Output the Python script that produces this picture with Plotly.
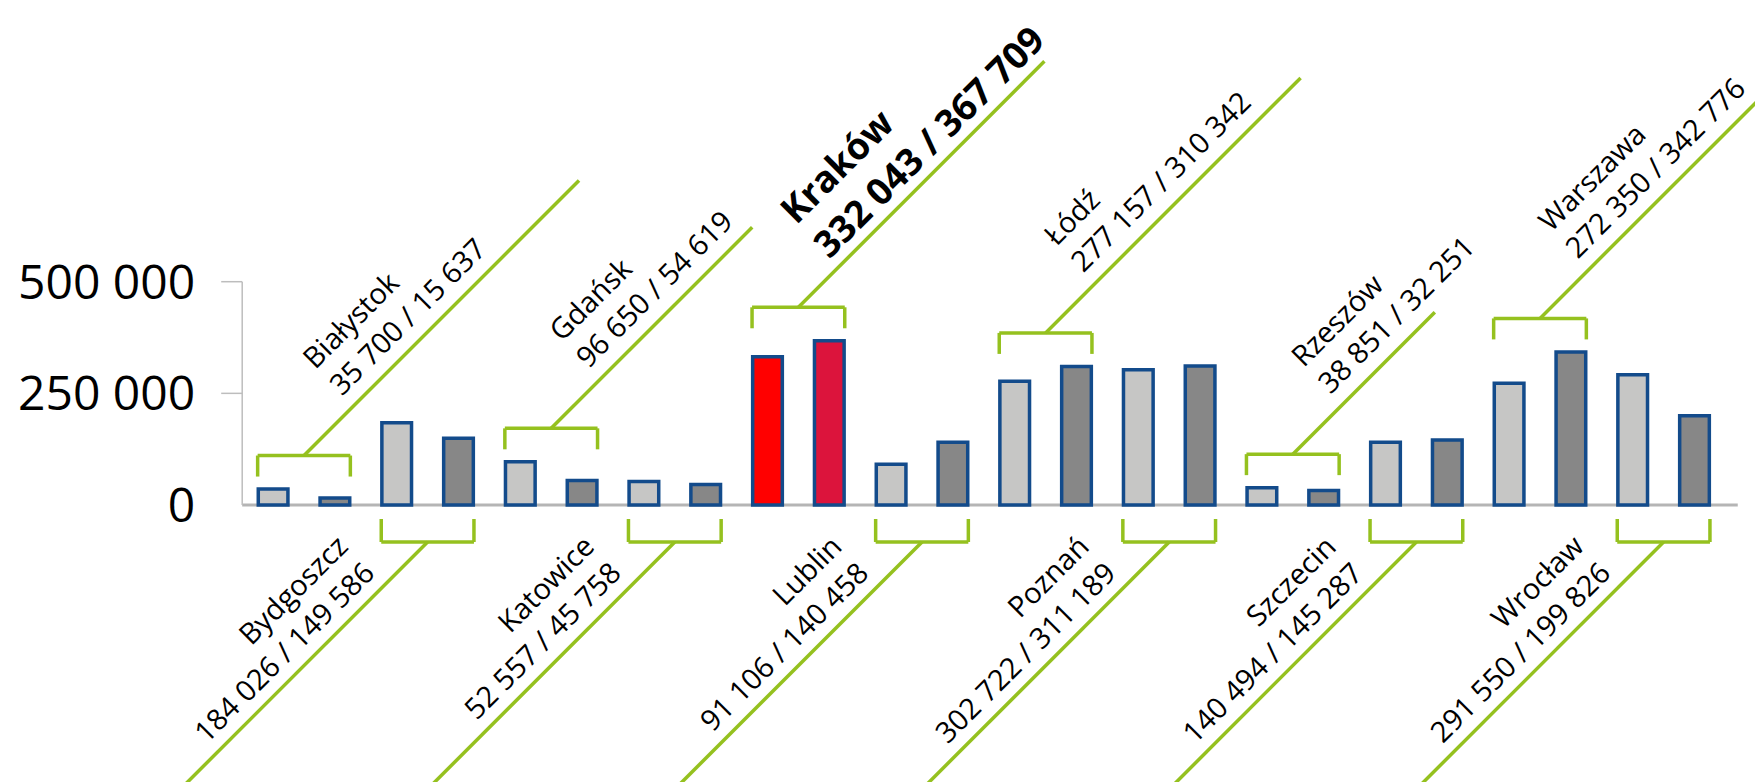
import math
import plotly.graph_objects as go

# ---------------- data ----------------
cities = ["Białystok", "Bydgoszcz", "Gdańsk", "Katowice", "Kraków", "Lublin",
          "Łódź", "Poznań", "Rzeszów", "Szczecin", "Warszawa", "Wrocław"]
values_a = [35700, 184026, 96650, 52557, 332043, 91106,
            277157, 302722, 38851, 140494, 272350, 291550]
values_b = [15637, 149586, 54619, 45758, 367709, 140458,
            310342, 311189, 32251, 145287, 342776, 199826]
highlight_city = "Kraków"
y_tick_values = [0, 250000, 500000]
y_tick_labels = ["0", "250 000", "500 000"]

# ---------------- style / layout constants ----------------
W, H = 1763, 782
PAGE_OFF = 8               # page body margin offset
X0_PX = 242.2 - PAGE_OFF   # pixel of left edge of first category (figure coords)
CAT_PX = 123.6             # pixels per category
Y0_PX = 505.0 - PAGE_OFF   # pixel of value 0
YTOP_PX = 281.7 - PAGE_OFF # pixel of value 500 000
PPU_Y = (Y0_PX - YTOP_PX) / 500000.0

GREEN = "#95C11F"
LIGHT = "#C6C6C5"
DARK = "#878787"
EDGE = "#134B8B"
RED_A = "#FF0000"
RED_B = "#DC143C"
AXIS = "#BDBDBD"
FONT = "Open Sans"

upper_leader_px = [275, 201, 246, 255, 142, 280]   # horizontal extent of leader lines (upper labels)
lower_leader_px = 330
HL_SIZE = 37
HL_STEP = 1.3 * HL_SIZE / math.sqrt(2)

x_range = [-0.5 - X0_PX / CAT_PX, -0.5 + (W - X0_PX) / CAT_PX]
y_range = [-(H - Y0_PX) / PPU_Y, Y0_PX / PPU_Y]


def px_x(p):
    return p / CAT_PX


def px_y(p):
    return p / PPU_Y


def fmt(v):
    return f"{v:,}".replace(",", " ")


idx = list(range(len(cities)))
colors_a = [RED_A if c == highlight_city else LIGHT for c in cities]
colors_b = [RED_B if c == highlight_city else DARK for c in cities]

fig = go.Figure()
fig.add_trace(go.Bar(x=idx, y=values_a, marker=dict(color=colors_a, line=dict(color=EDGE, width=3.5)),
                     customdata=cities, hovertemplate="%{customdata}: %{y}<extra></extra>"))
fig.add_trace(go.Bar(x=idx, y=values_b, marker=dict(color=colors_b, line=dict(color=EDGE, width=3.5)),
                     customdata=cities, hovertemplate="%{customdata}: %{y}<extra></extra>"))

shapes = []
# axes
shapes.append(dict(type="line", x0=-0.5, x1=len(cities) - 0.4, y0=0, y1=0,
                   line=dict(color="#B5B5B5", width=3), layer="below"))
shapes.append(dict(type="line", x0=-0.5, x1=-0.5, y0=0, y1=y_tick_values[-1],
                   line=dict(color=AXIS, width=1.5), layer="below"))
for tv in y_tick_values[1:]:
    shapes.append(dict(type="line", x0=-0.5 - px_x(21), x1=-0.5, y0=tv, y1=tv,
                       line=dict(color=AXIS, width=1.5), layer="below"))

annotations = []
half = 0.375
up_i = 0
for i, c in enumerate(cities):
    a, b = values_a[i], values_b[i]
    is_hl = c == highlight_city
    line_style = dict(color=GREEN, width=3.5)
    if i % 2 == 0:
        top = max(a, b) + 75000
        leg = max(a, b) + 28000
        shapes += [
            dict(type="line", x0=i - half, x1=i + half, y0=top, y1=top, line=line_style),
            dict(type="line", x0=i - half, x1=i - half, y0=leg, y1=top, line=line_style),
            dict(type="line", x0=i + half, x1=i + half, y0=leg, y1=top, line=line_style),
        ]
        L = upper_leader_px[up_i]
        up_i += 1
        shapes.append(dict(type="line", x0=i, y0=top, x1=i + px_x(L), y1=top + px_y(L), line=line_style))
        common = dict(x=i, y=top, xref="x", yref="y", showarrow=False, textangle=-45,
                      align="left", xanchor="left", yanchor="bottom", borderpad=0, borderwidth=0)
        if is_hl:
            hl_font = dict(family=FONT, size=HL_SIZE, color="black")
            annotations.append(dict(common, text=f"<b>{c}</b>", font=hl_font,
                                    xshift=-31, yshift=40 + HL_STEP))
            annotations.append(dict(common, text=f"<b>{fmt(a)} / {fmt(b)}</b>", font=hl_font,
                                    xshift=-31 + HL_STEP, yshift=40))
        else:
            annotations.append(dict(common, text=f"{c}<br>{fmt(a)} / {fmt(b)}",
                                    font=dict(family=FONT, size=29, color="black"),
                                    xshift=-11, yshift=53))
    else:
        top = -px_y(14)
        bot = -px_y(37)
        shapes += [
            dict(type="line", x0=i - half, x1=i + half, y0=bot, y1=bot, line=line_style),
            dict(type="line", x0=i - half, x1=i - half, y0=top, y1=bot, line=line_style),
            dict(type="line", x0=i + half, x1=i + half, y0=top, y1=bot, line=line_style),
        ]
        L = lower_leader_px
        shapes.append(dict(type="line", x0=i, y0=bot, x1=i - px_x(L), y1=bot - px_y(L), line=line_style))
        text = f"{c}<br>{fmt(a)} / {fmt(b)}"
        annotations.append(dict(x=i, y=bot, xref="x", yref="y", text=text, showarrow=False,
                                textangle=-45, align="right", xanchor="right", yanchor="top",
                                xshift=-46, yshift=16, borderpad=0, borderwidth=0,
                                font=dict(family=FONT, size=29, color="black")))

fig.update_layout(
    width=W, height=H,
    margin=dict(l=0, r=0, t=0, b=0),
    paper_bgcolor="white", plot_bgcolor="white",
    showlegend=False,
    barmode="group", bargap=0, bargroupgap=0.52,
    shapes=shapes, annotations=annotations,
    xaxis=dict(range=x_range, visible=False, fixedrange=True),
    yaxis=dict(range=y_range, anchor="free", position=X0_PX / W, showline=False, showgrid=False,
               zeroline=False, ticks="", tickvals=y_tick_values, ticktext=y_tick_labels,
               ticklabelstandoff=47, tickfont=dict(family=FONT, size=48, color="black"),
               fixedrange=True),
)

fig.write_html("out.html")
